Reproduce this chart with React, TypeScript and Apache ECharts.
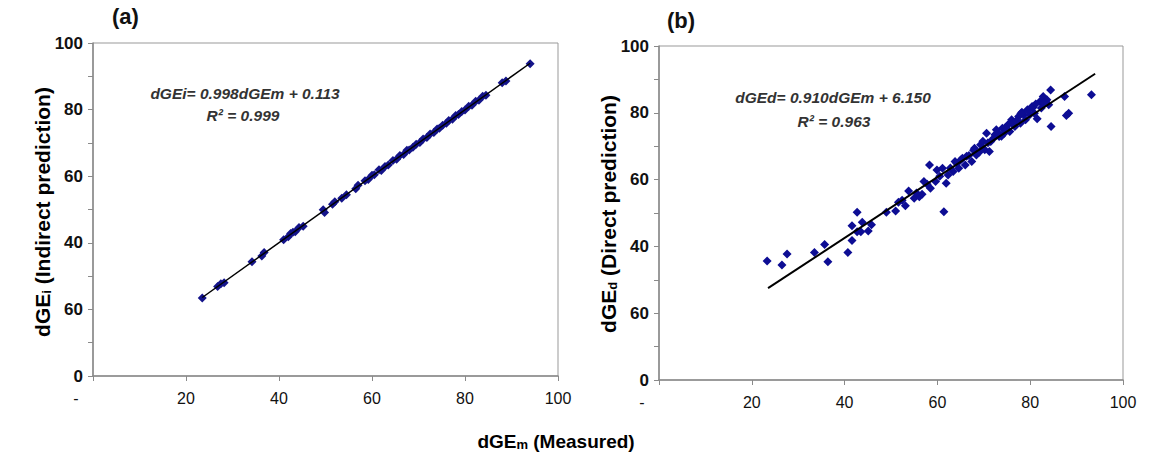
import React, { useEffect, useRef } from "react";
import * as echarts from "echarts";

// Panel (a): indirect prediction vs measured
const aX = [23.5, 26.8, 27.5, 28.2, 34.2, 36.3, 36.8, 41.0, 42.0, 42.5, 43.0, 43.5, 44.3, 45.2, 49.5, 49.8, 51.5, 52.0, 53.5, 54.5, 56.5, 57.0, 58.5, 59.2, 60.0, 60.5, 61.5, 62.0, 62.8, 63.5, 64.5, 65.3, 66.0, 66.8, 67.5, 68.0, 68.8, 69.5, 70.3, 71.0, 71.8, 72.5, 73.3, 74.0, 74.5, 75.2, 76.0, 76.5, 77.3, 78.0, 78.6, 79.3, 80.0, 80.8, 81.5, 82.3, 83.0, 83.8, 84.5, 88.0, 88.8, 94.0];
const aY = [23.4, 26.9, 27.7, 28.0, 34.3, 36.0, 37.1, 40.9, 41.8, 42.8, 43.2, 43.3, 44.6, 45.0, 49.9, 49.1, 51.6, 52.3, 53.4, 54.4, 56.2, 57.3, 58.6, 59.0, 60.3, 60.4, 61.9, 61.7, 62.9, 63.4, 64.7, 65.1, 66.2, 66.5, 67.8, 67.9, 68.7, 69.6, 70.1, 71.2, 71.6, 72.7, 73.1, 74.2, 74.4, 75.3, 75.9, 76.7, 77.1, 78.2, 78.5, 79.4, 79.9, 81.0, 81.3, 82.5, 82.8, 84.0, 84.3, 88.1, 88.6, 93.8];
const aFitX = [23.5, 94];
const aFitY = [23.57, 93.92];

// Panel (b): direct prediction vs measured
const bX = [23.3, 26.5, 27.6, 33.5, 35.7, 36.4, 40.7, 41.6, 41.6, 42.7, 42.7, 43.8, 43.5, 45.1, 49.0, 51.0, 51.6, 53.1, 53.8, 55.0, 56.1, 56.7, 57.1, 58.3, 58.5, 59.6, 59.9, 61.1, 61.4, 61.9, 62.3, 63.4, 63.8, 64.6, 65.4, 66.0, 66.8, 67.4, 68.0, 68.4, 69.3, 70.2, 70.6, 71.2, 71.5, 72.1, 72.7, 73.3, 74.0, 74.4, 75.2, 75.6, 76.0, 76.7, 77.5, 77.9, 78.6, 79.0, 79.4, 79.9, 80.4, 80.9, 81.5, 82.1, 82.4, 82.8, 83.6, 84.0, 84.4, 84.5, 87.4, 87.8, 88.3, 93.2, 60.5, 65.0, 69.0, 73.8, 76.3, 78.2, 55.5, 57.8, 62.8, 64.2, 66.3, 67.8, 69.8, 70.9, 72.4, 73.0, 74.7, 75.9, 77.0, 78.0, 79.6, 80.6, 81.2, 83.0, 45.8, 52.4];
const bY = [35.6, 34.4, 37.7, 38.2, 40.6, 35.4, 38.2, 46.2, 41.8, 50.2, 44.4, 47.2, 44.4, 44.6, 50.2, 50.6, 53.2, 52.2, 56.6, 54.4, 54.9, 55.6, 59.4, 64.4, 57.4, 59.4, 62.9, 63.4, 50.4, 58.9, 61.4, 62.4, 65.4, 63.4, 66.4, 64.4, 67.2, 65.4, 69.4, 67.4, 70.4, 68.9, 73.9, 68.4, 71.4, 72.4, 74.9, 72.9, 75.4, 73.9, 76.4, 74.4, 77.9, 75.9, 78.9, 76.9, 79.4, 77.9, 80.9, 79.4, 81.9, 79.9, 78.2, 83.4, 81.4, 84.9, 83.9, 82.4, 86.8, 75.9, 84.9, 79.2, 79.9, 85.4, 61.0, 65.9, 68.2, 73.0, 76.9, 80.2, 56.0, 58.6, 63.5, 64.8, 67.0, 68.8, 71.5, 71.0, 73.4, 74.1, 75.6, 77.2, 77.6, 79.8, 80.6, 81.6, 82.6, 82.9, 46.5, 53.8];
const bFitX = [23.5, 94];
const bFitY = [27.5, 91.7];

const yTickLabels = ["0", "60", "40", "60", "80", "100"];
const xTickLabels = ["-", "20", "40", "60", "80", "100"];

const pairs = (xs: number[], ys: number[]) => xs.map((x, i) => [x, ys[i]]);

const NARROW = "'Liberation Sans Narrow', 'Arial Narrow', 'Liberation Sans', Arial, sans-serif";
const SANS = "'Liberation Sans', Arial, sans-serif";

function xAxisCfg(gridIndex: number) {
  return {
    type: "value",
    gridIndex,
    min: 0,
    max: 100,
    interval: 20,
    axisLine: { show: true, lineStyle: { color: "#8a8a8a", width: 1.5 } },
    axisTick: { show: true, length: 5, lineStyle: { color: "#8a8a8a" } },
    splitLine: { show: false },
    axisLabel: {
      margin: 14,
      color: "#111",
      fontFamily: NARROW,
      fontSize: 16,
      formatter: (v: number) => {
        const s = xTickLabels[Math.round(v / 20)];
        return v === 0 ? "{d|" + s + "}" : s;
      },
      rich: { d: { padding: [0, 34, 0, 0], fontFamily: NARROW, fontSize: 16, color: "#111" } },
    },
  };
}

function yAxisCfg(gridIndex: number) {
  return {
    type: "value",
    gridIndex,
    min: 0,
    max: 100,
    interval: 20,
    axisLine: { show: true, lineStyle: { color: "#8a8a8a", width: 1.5 } },
    axisTick: { show: true, length: 5, lineStyle: { color: "#8a8a8a" } },
    minorTick: { show: true, splitNumber: 2, length: 5, lineStyle: { color: "#8a8a8a" } },
    splitLine: { show: false },
    axisLabel: {
      margin: 10,
      color: "#111",
      fontWeight: "bold",
      fontFamily: NARROW,
      fontSize: 17,
      formatter: (v: number) => yTickLabels[Math.round(v / 20)],
    },
  };
}

const richTitle = {
  b: { fontFamily: SANS, fontWeight: "bold", fontSize: 21, color: "#111" },
  s: { fontFamily: SANS, fontWeight: "bold", fontSize: 13, color: "#111", padding: [9, 0, 0, 0] },
};

export default function App() {
  const ref = useRef<HTMLDivElement>(null);
  useEffect(() => {
    if (!ref.current) return;
    const chart = echarts.init(ref.current, undefined, { renderer: "svg" });
    const eqStyle = { fontFamily: SANS, fontStyle: "italic", fontWeight: "bold", fontSize: 15.5, fill: "#333", align: "center", verticalAlign: "middle" };
    chart.setOption({
      animation: false,
      backgroundColor: "#fff",
      grid: [
        { left: 93, top: 43, width: 465, height: 333, show: true, borderColor: "#999", borderWidth: 1, backgroundColor: "transparent" },
        { left: 659, top: 46, width: 464, height: 334, show: true, borderColor: "#999", borderWidth: 1, backgroundColor: "transparent" },
      ],
      xAxis: [xAxisCfg(0), xAxisCfg(1)],
      yAxis: [yAxisCfg(0), yAxisCfg(1)],
      series: [
        {
          type: "line",
          xAxisIndex: 0,
          yAxisIndex: 0,
          data: pairs(aFitX, aFitY),
          symbol: "none",
          lineStyle: { color: "#000", width: 1.5 },
          z: 3,
        },
        {
          type: "scatter",
          xAxisIndex: 0,
          yAxisIndex: 0,
          data: pairs(aX, aY),
          symbol: "diamond",
          symbolSize: 9,
          itemStyle: { color: "#14148a", opacity: 1 },
          z: 2,
        },
        {
          type: "scatter",
          xAxisIndex: 1,
          yAxisIndex: 1,
          data: pairs(bX, bY),
          symbol: "diamond",
          symbolSize: 9,
          itemStyle: { color: "#0d0d94", opacity: 1 },
          z: 2,
        },
        {
          type: "line",
          xAxisIndex: 1,
          yAxisIndex: 1,
          data: pairs(bFitX, bFitY),
          symbol: "none",
          lineStyle: { color: "#000", width: 2 },
          z: 3,
        },
      ],
      graphic: [
        { type: "text", left: 112, top: 5, style: { text: "(a)", fontFamily: SANS, fontWeight: "bold", fontSize: 22, fill: "#111" } },
        { type: "text", left: 667, top: 9, style: { text: "(b)", fontFamily: SANS, fontWeight: "bold", fontSize: 22, fill: "#111" } },
        { type: "text", x: 245, y: 93, style: { text: "dGEi= 0.998dGEm + 0.113", ...eqStyle } },
        { type: "text", x: 243, y: 115, style: { text: "R² = 0.999", ...eqStyle } },
        { type: "text", x: 833, y: 97, style: { text: "dGEd= 0.910dGEm + 6.150", ...eqStyle } },
        { type: "text", x: 834, y: 121, style: { text: "R² = 0.963", ...eqStyle } },
        {
          type: "text",
          x: 42,
          y: 212,
          rotation: Math.PI / 2,
          style: { text: "{b|dGE}{s|i}{b| (Indirect prediction)}", rich: richTitle, align: "center", verticalAlign: "middle" },
        },
        {
          type: "text",
          x: 608,
          y: 214,
          rotation: Math.PI / 2,
          style: { text: "{b|dGE}{s|d}{b| (Direct prediction)}", rich: richTitle, align: "center", verticalAlign: "middle" },
        },
        {
          type: "text",
          x: 556,
          y: 441,
          style: {
            text: "{b|dGE}{s|m}{b| (Measured)}",
            rich: {
              b: { fontFamily: NARROW, fontWeight: "bold", fontSize: 19, color: "#111" },
              s: { fontFamily: NARROW, fontWeight: "bold", fontSize: 13, color: "#111", padding: [7, 0, 0, 0] },
            },
            align: "center",
            verticalAlign: "middle",
          },
        },
      ],
    });
    return () => chart.dispose();
  }, []);
  return <div ref={ref} style={{ position: "absolute", left: 0, top: 0, width: 1159, height: 459 }} />;
}
